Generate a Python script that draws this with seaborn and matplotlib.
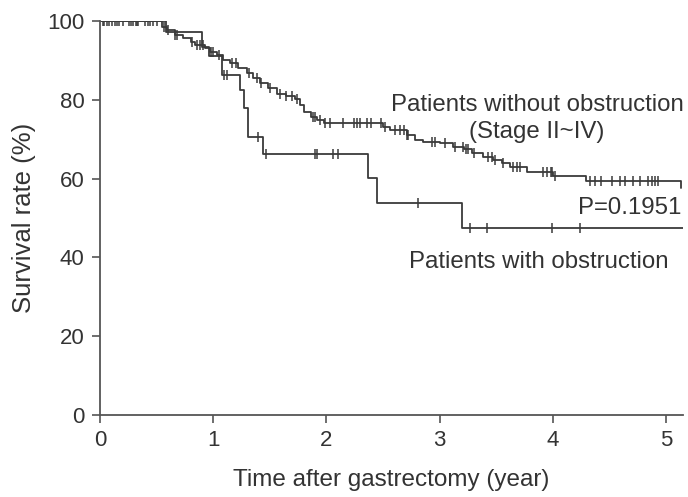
import numpy as np
import pandas as pd
import matplotlib
matplotlib.use("Agg")
import matplotlib.pyplot as plt
import seaborn as sns

# step curve for patients without obstruction (time in years, survival %)
t_without = [0.0, 0.55, 0.59, 0.66, 0.73, 0.80, 0.84, 0.93, 0.97, 1.03, 1.09, 1.15,
             1.22, 1.30, 1.35, 1.41, 1.48, 1.56, 1.64, 1.72, 1.77, 1.80, 1.86, 1.92,
             1.98, 2.50, 2.56, 2.71, 2.78, 2.85, 3.00, 3.12, 3.22, 3.29, 3.38, 3.47,
             3.55, 3.62, 3.77, 4.00, 4.29, 5.13]
s_without = [100.0, 98.6, 97.7, 96.4, 95.7, 94.7, 93.9, 93.1, 92.2, 91.4, 90.1, 89.3,
             88.1, 86.8, 85.5, 84.2, 82.9, 81.6, 80.9, 80.2, 78.7, 77.0, 75.7, 74.9,
             74.1, 73.2, 72.3, 71.1, 69.8, 69.4, 69.0, 68.1, 67.6, 66.5, 65.6, 64.7,
             63.9, 63.0, 61.8, 60.6, 59.4, 57.6]
c_without = [0.03, 0.04, 0.08, 0.11, 0.13, 0.15, 0.20, 0.26, 0.27, 0.29, 0.33, 0.34,
             0.40, 0.42, 0.44, 0.47, 0.50, 0.57, 0.60, 0.66, 0.68, 0.81, 0.86, 0.88,
             0.91, 0.98, 1.00, 1.05, 1.17, 1.20, 1.32, 1.39, 1.42, 1.50, 1.59, 1.64,
             1.70, 1.74, 1.88, 1.90, 1.94, 1.99, 2.03, 2.15, 2.24, 2.27, 2.30, 2.36,
             2.39, 2.48, 2.52, 2.61, 2.65, 2.69, 2.71, 2.72, 2.93, 2.96, 3.05, 3.14,
             3.21, 3.23, 3.25, 3.30, 3.43, 3.46, 3.49, 3.56, 3.65, 3.68, 3.71, 3.91,
             3.95, 3.98, 3.99, 4.02, 4.33, 4.37, 4.43, 4.52, 4.59, 4.64, 4.71, 4.77,
             4.84, 4.88, 4.90, 4.93]

# step curve for patients with obstruction
t_with = [0.0, 0.58, 0.90, 0.96, 1.08, 1.24, 1.27, 1.31, 1.44, 2.37, 2.45, 3.20, 5.15]
s_with = [100.0, 97.3, 93.5, 91.0, 86.3, 82.5, 78.0, 70.6, 66.2, 60.2, 53.9, 47.5, 47.5]
c_with = [0.06, 0.17, 0.32, 1.10, 1.12, 1.40, 1.47, 1.90, 1.92, 2.06, 2.10, 2.81,
          3.27, 3.42, 3.99, 4.24]


def censor_frame(times, surv, cens, group):
    idx = np.searchsorted(times, cens, side="right") - 1
    return pd.DataFrame({"time": cens, "surv": np.asarray(surv)[idx], "group": group})


curves = pd.concat([
    pd.DataFrame({"time": t_without, "surv": s_without, "group": "without"}),
    pd.DataFrame({"time": t_with, "surv": s_with, "group": "with"}),
])
marks = pd.concat([
    censor_frame(t_without, s_without, c_without, "without"),
    censor_frame(t_with, s_with, c_with, "with"),
])

sns.set_style("white")
plt.rcParams["font.family"] = ["Liberation Sans", "DejaVu Sans"]

ink = "#3a3a3a"
fig = plt.figure(figsize=(6.88, 4.97), dpi=100)
ax = fig.add_axes([0.1453, 0.165, 0.8474, 0.7927])

for g in ["without", "with"]:
    sns.lineplot(data=curves[curves.group == g], x="time", y="surv", ax=ax,
                 drawstyle="steps-post", estimator=None, sort=False,
                 color=ink, linewidth=1.3)
sns.scatterplot(data=marks, x="time", y="surv", ax=ax, marker="|", s=55,
                color=ink, linewidth=1.1, legend=False)

ax.set_xlim(0, 5.15)
ax.set_ylim(0, 100)
ax.set_xticks([0, 1, 2, 3, 4, 5])
ax.set_yticks([0, 20, 40, 60, 80, 100])
ax.set_xlabel("Time after gastrectomy (year)", fontsize=17.5, color="#333333", labelpad=13)
ax.set_ylabel("Survival rate (%)", fontsize=18.5, color="#333333", labelpad=8)
ax.tick_params(axis="both", direction="out", length=6, width=1.2, colors="#555555",
               labelcolor="#333333", labelsize=16, pad=5, bottom=True, left=True)
for side in ["top", "right"]:
    ax.spines[side].set_visible(False)
for side in ["left", "bottom"]:
    ax.spines[side].set_color("#555555")
    ax.spines[side].set_linewidth(1.3)

txt = dict(fontsize=17.3, color="#333333")
ax.text(3.86, 78.7, "Patients without obstruction", ha="center", va="center", **txt)
ax.text(3.86, 71.8, "(Stage II~IV)", ha="center", va="center", **txt)
ax.text(5.14, 52.5, "P=0.1951", ha="right", va="center", **txt)
ax.text(3.88, 38.8, "Patients with obstruction", ha="center", va="center", **txt)

fig.savefig("out.png", dpi=100)
